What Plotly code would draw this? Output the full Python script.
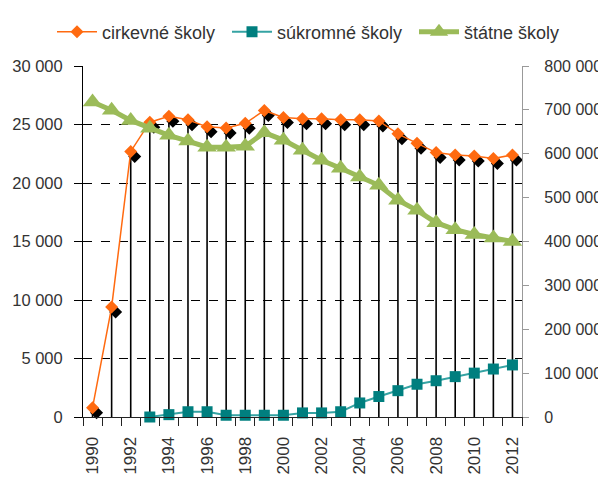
import plotly.graph_objects as go

years = list(range(1990, 2013))
cirkevne = [800, 9400, 22700, 25200, 25700, 25400, 24800, 24700, 25100, 26200,
            25600, 25500, 25500, 25400, 25400, 25300, 24200, 23400, 22600, 22400,
            22300, 22100, 22400]
sukromne = [None, None, None, 0, 200, 450, 450, 150, 150, 150,
            150, 350, 350, 450, 1200, 1750, 2250, 2800, 3100, 3450,
            3750, 4100, 4450]
statne = [718000, 699000, 676000, 658000, 642000, 629000, 615000, 615000, 617000, 648000,
          631000, 608000, 585000, 567000, 547000, 528000, 494000, 471000, 443000, 427000,
          416000, 408000, 400000]
tick_years = [y for y in years if y % 2 == 0]
names = ["cirkevné školy", "súkromné školy", "štátne školy"]

FONT = "Liberation Sans Narrow, Arial Narrow, Liberation Sans, Arial, sans-serif"
TXT = "#333333"
ORANGE = "#FF6A10"
TEAL_M = "#007F7F"
TEAL_L = "#35A3A3"
GREEN = "#9BBB59"

# page has an 8px body margin: figure sized to fit the 606x477 window
W, H = 598, 469
ML, MT = 75, 58
plot_w, plot_h = 439, 351
MR = W - ML - plot_w
MB = H - MT - plot_h
xr = [years[0] - 0.5, years[-1] + 0.5]
yr = [0, 30000]
yr2 = [0, 800000]
# shadow offset (pixels -> data units)
sdx = 4 * (xr[1] - xr[0]) / plot_w
sdy = 5 * (yr[1] - yr[0]) / plot_h

drop_x, drop_y = [], []
for yv, v in zip(years, cirkevne):
    drop_x += [yv, yv, None]
    drop_y += [0, v, None]

fig = go.Figure()
fig.add_trace(go.Scatter(x=drop_x, y=drop_y, mode="lines", xaxis="x", yaxis="y",
                         line=dict(color="#000000", width=1.6), showlegend=False,
                         hoverinfo="skip"))
fig.add_trace(go.Scatter(x=years, y=cirkevne, mode="markers", xaxis="x2", yaxis="y3",
                         marker=dict(symbol="diamond", size=10, color="#000000"),
                         showlegend=False, hoverinfo="skip", cliponaxis=False))
fig.add_trace(go.Scatter(x=years, y=cirkevne, name=names[0], mode="lines+markers",
                         xaxis="x3", yaxis="y4", cliponaxis=False, legend="legend",
                         line=dict(color=ORANGE, width=1.5),
                         marker=dict(symbol="diamond", size=10, color=ORANGE)))
fig.add_trace(go.Scatter(x=years, y=sukromne, name=names[1], mode="lines+markers",
                         xaxis="x3", yaxis="y4", cliponaxis=False, legend="legend2",
                         line=dict(color=TEAL_L, width=2),
                         marker=dict(symbol="square", size=11, color=TEAL_M)))
fig.add_trace(go.Scatter(x=years, y=statne, name=names[2], mode="lines+markers",
                         xaxis="x4", yaxis="y2", cliponaxis=False, legend="legend3",
                         line=dict(color=GREEN, width=5),
                         marker=dict(symbol="triangle-up", size=17, color=GREEN)))

tickfont = dict(family=FONT, size=16.5, color=TXT)
rtickfont = dict(family=FONT, size=16, color=TXT)
xtickfont = dict(family=FONT, size=17, color=TXT)


def leg(xpix):
    return dict(orientation="h", x=xpix / W, xanchor="left", xref="container",
                y=1 - 24 / H, yanchor="middle", yref="container",
                font=dict(family=FONT, size=18, color=TXT),
                itemwidth=40, bgcolor="rgba(0,0,0,0)")


fig.update_layout(
    width=W, height=H, autosize=False,
    margin=dict(l=ML, r=MR, t=MT, b=MB, autoexpand=False),
    paper_bgcolor="white", plot_bgcolor="white",
    separators=", ",
    font=dict(family=FONT, color=TXT),
    showlegend=True,
    legend=leg(44),
    legend2=leg(219),
    legend3=leg(406),
    xaxis=dict(range=xr, tickmode="array", tickvals=tick_years,
               ticktext=[str(y) for y in tick_years], tickangle=-90,
               ticks="", tickfont=xtickfont, showgrid=False, zeroline=False,
               showline=True, linecolor="#222222", linewidth=1,
               ticklabelstandoff=12, automargin=False,
               minor=dict(tickmode="array",
                          tickvals=[y - 0.5 for y in years] + [years[-1] + 0.5],
                          ticks="outside", ticklen=8, tickcolor="#222222",
                          tickwidth=1, showgrid=False)),
    xaxis2=dict(visible=False, overlaying="x", range=[xr[0] - sdx, xr[1] - sdx]),
    xaxis3=dict(visible=False, overlaying="x", range=xr),
    xaxis4=dict(visible=False, overlaying="x", range=xr),
    yaxis=dict(range=yr, dtick=5000, tickformat=",d", tickfont=tickfont,
               showgrid=True, gridcolor="#000000", griddash="dash", gridwidth=1,
               zeroline=False, showline=True, linecolor="#000000", linewidth=1,
               ticks="outside", ticklen=8, tickcolor="#000000",
               ticklabelstandoff=8, automargin=False),
    yaxis2=dict(range=yr2, dtick=100000, tickformat=",d", tickfont=rtickfont,
                overlaying="y", side="right", anchor="x",
                showgrid=False, zeroline=False, showline=True,
                linecolor="#999999", linewidth=1.2, ticks="outside", ticklen=6,
                tickcolor="#999999", ticklabelstandoff=12, automargin=False),
    yaxis3=dict(visible=False, overlaying="y", range=[yr[0] + sdy, yr[1] + sdy]),
    yaxis4=dict(visible=False, overlaying="y", range=yr),
)

fig.write_html("out.html")
